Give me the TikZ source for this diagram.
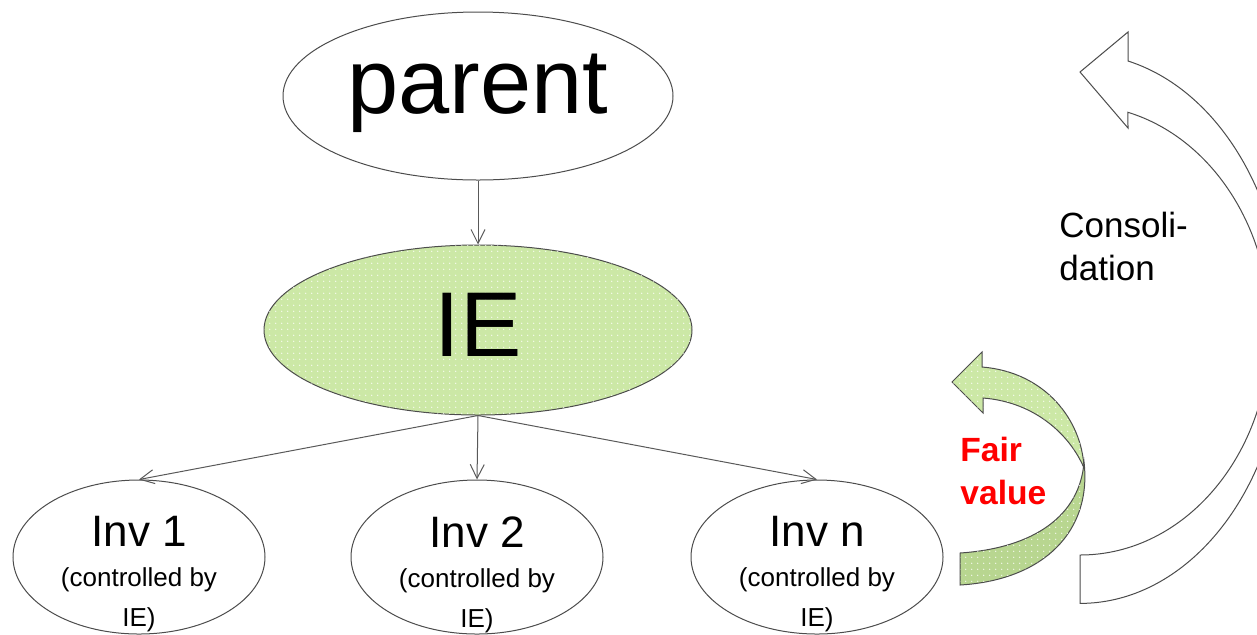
\documentclass[tikz,border=0pt]{standalone}
\usepackage{fontspec}
\setmainfont{Liberation Sans}
\usetikzlibrary{shapes.geometric,arrows.meta,patterns.meta}

\definecolor{leaf}{RGB}{204,232,166}
\definecolor{leafdark}{RGB}{184,214,144}
\definecolor{fvred}{RGB}{255,0,0}

% fine white speckle laid over the green fills
\tikzdeclarepattern{
  name=finedots,
  type=uncolored,
  bottom left={(-1pt,-1pt)},
  top right={(2pt,2pt)},
  tile size={(3pt,3pt)},
  code={\fill (0pt,0pt) circle (0.35pt);}
}

\tikzset{
  outline/.style={draw=black!70, line width=0.5pt},
  bubble/.style={ellipse, outline, fill=white, inner sep=0pt},
  greenfill/.style={fill=leaf, postaction={pattern=finedots, pattern color=white}},
  darkfill/.style={fill=leafdark, postaction={pattern=finedots, pattern color=white}},
  invbubble/.style={bubble, minimum width=126pt, minimum height=77pt},
  invtext/.style={inner sep=0pt, align=center, font=\fontsize{13}{20}\selectfont},
  link/.style={draw=black!65, line width=0.5pt, -{Straight Barb[length=7pt,width=7pt]}},
  sidetext/.style={inner sep=0pt, anchor=north west, align=left},
}

\begin{document}
\begin{tikzpicture}[x=0.5pt, y=-0.5pt]
\useasboundingbox (0,0) rectangle (1257,634);
\clip (0,0) rectangle (1257,634);

% hierarchy
\node[bubble, minimum width=195pt, minimum height=84pt,
      font=\fontsize{46}{46}\selectfont, text depth=12pt] (parent) at (478,96) {parent};
\node[bubble, greenfill, minimum width=214pt, minimum height=85pt,
      font=\fontsize{46}{46}\selectfont, text depth=5pt] (ie) at (478,330) {IE};

\node[invbubble] (inv1) at (139,557) {};
\node[invbubble] (inv2) at (477,557) {};
\node[invbubble] (invn) at (817,557) {};

\node[invtext] (inv1txt) at ([yshift=-8.75pt]inv1.center)
  {{\fontsize{22}{22}\selectfont Inv 1}\\(controlled by\\IE)};
\node[invtext] (inv2txt) at ([yshift=-8.75pt]inv2.center)
  {{\fontsize{22}{22}\selectfont Inv 2}\\(controlled by\\IE)};
\node[invtext] (invntxt) at ([yshift=-8.75pt]invn.center)
  {{\fontsize{22}{22}\selectfont Inv n}\\(controlled by\\IE)};

\draw[link] (parent) -- (ie);
\draw[link] (ie.south) -- (inv1.north);
\draw[link] (ie.south) -- (inv2.north);
\draw[link] (ie.south) -- (invn.north);

% fair value: twisted curved arrow
\path[outline, darkfill]
  (1084,462) .. controls (1080,515) and (1035,548) .. (960,553)
  -- (960,585) .. controls (1045,580) and (1092,530) .. (1084,462) -- cycle;
\path[outline, greenfill]
  (982,367) .. controls (1045,372) and (1082,420) .. (1084,468)
  .. controls (1070,435) and (1035,402) .. (983,398)
  -- (983,413) -- (952,382) -- (982,352) -- cycle;

\node[sidetext, text=fvred, font=\fontsize{16.8}{21.5}\selectfont\bfseries]
  (fair) at (960,437) {Fair\\value};

% consolidation: large outlined curved arrow
\path[outline, fill=white]
  (1080,72) -- (1128,32) -- (1128,61)
  arc[start angle=76.5, end angle=-90, x radius=102.5pt, y radius=137.5pt]
  -- (1080,555)
  arc[start angle=-90, end angle=75.4, x radius=95pt, y radius=112.5pt]
  -- (1128,128) -- cycle;

\node[sidetext, font=\fontsize{17.5}{21.5}\selectfont]
  (consol) at (1059,212) {Consoli-\\dation};
\end{tikzpicture}
\end{document}
